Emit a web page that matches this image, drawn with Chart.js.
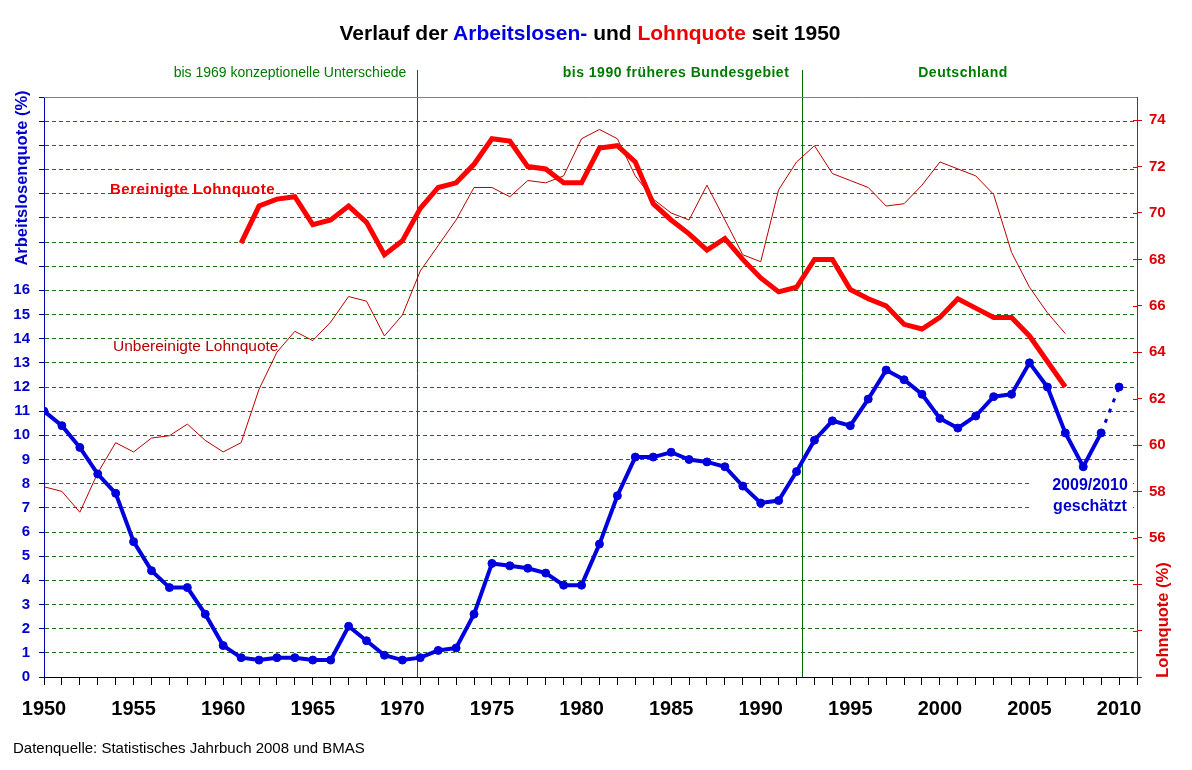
<!DOCTYPE html>
<html lang="de">
<head>
<meta charset="utf-8">
<title>Verlauf der Arbeitslosen- und Lohnquote seit 1950</title>
<script src="https://cdn.jsdelivr.net/npm/chart.js@4.4.0/dist/chart.umd.min.js"></script>
<style>
  html, body { margin: 0; padding: 0; background: #fff; }
  #wrap { position: relative; width: 1192px; height: 770px; font-family: Arial, "Liberation Sans", sans-serif; }
  #chart { position: absolute; left: 0; top: 0; }
  #title { position: absolute; left: 0; top: 21px; width: 1180px; text-align: center; font-weight: bold; font-size: 21px; line-height: 24px; color: #000; }
  #title .blue { color: #0000dd; }
  #title .red { color: #ee0000; }
  #source { position: absolute; left: 13px; top: 739px; font-size: 15px; line-height: 18px; color: #000; }
</style>
</head>
<body>
<div id="wrap">
  <canvas id="chart" width="1192" height="770"></canvas>
  <div id="title">Verlauf der <span class="blue">Arbeitslosen-</span> und <span class="red">Lohnquote</span> seit 1950</div>
  <div id="source">Datenquelle: Statistisches Jahrbuch 2008 und BMAS</div>
</div>
<script>
// years 1950 - 2010
const years = [1950, 1951, 1952, 1953, 1954, 1955, 1956, 1957, 1958, 1959,
  1960, 1961, 1962, 1963, 1964, 1965, 1966, 1967, 1968, 1969,
  1970, 1971, 1972, 1973, 1974, 1975, 1976, 1977, 1978, 1979,
  1980, 1981, 1982, 1983, 1984, 1985, 1986, 1987, 1988, 1989,
  1990, 1991, 1992, 1993, 1994, 1995, 1996, 1997, 1998, 1999,
  2000, 2001, 2002, 2003, 2004, 2005, 2006, 2007, 2008, 2009, 2010];

// Arbeitslosenquote (%), left axis; 2010 is an estimate
const arbeitslosenquote = [11.0, 10.4, 9.5, 8.4, 7.6, 5.6, 4.4, 3.7, 3.7, 2.6,
  1.3, 0.8, 0.7, 0.8, 0.8, 0.7, 0.7, 2.1, 1.5, 0.9,
  0.7, 0.8, 1.1, 1.2, 2.6, 4.7, 4.6, 4.5, 4.3, 3.8,
  3.8, 5.5, 7.5, 9.1, 9.1, 9.3, 9.0, 8.9, 8.7, 7.9,
  7.2, 7.3, 8.5, 9.8, 10.6, 10.4, 11.5, 12.7, 12.3, 11.7,
  10.7, 10.3, 10.8, 11.6, 11.7, 13.0, 12.0, 10.1, 8.7, 10.1, 12.0];

// bereinigte Lohnquote (%), right axis, from 1961
const lohnquoteBereinigt = [null, null, null, null, null, null, null, null, null, null,
  null, 68.7, 70.3, 70.6, 70.7, 69.5, 69.7, 70.3, 69.6, 68.2,
  68.8, 70.2, 71.1, 71.3, 72.1, 73.2, 73.1, 72.0, 71.9, 71.3,
  71.3, 72.8, 72.9, 72.2, 70.4, 69.7, 69.1, 68.4, 68.9, 68.0,
  67.2, 66.6, 66.8, 68.0, 68.0, 66.7, 66.3, 66.0, 65.2, 65.0,
  65.5, 66.3, 65.9, 65.5, 65.5, 64.7, 63.6, 62.5, null, null, null];

// unbereinigte Lohnquote (%), right axis
const lohnquoteUnbereinigt = [58.2, 58.0, 57.1, 58.8, 60.1, 59.7, 60.3, 60.4, 60.9, 60.2,
  59.7, 60.1, 62.4, 64.0, 64.9, 64.5, 65.3, 66.4, 66.2, 64.7,
  65.6, 67.5, 68.6, 69.7, 71.1, 71.1, 70.7, 71.4, 71.3, 71.6,
  73.2, 73.6, 73.2, 71.6, 70.6, 70.0, 69.7, 71.2, 69.7, 68.2,
  67.9, 71.0, 72.2, 72.9, 71.7, 71.4, 71.1, 70.3, 70.4, 71.2,
  72.2, 71.9, 71.6, 70.8, 68.3, 66.8, 65.7, 64.8, null, null, null];

const estimateFrom = 2009;
const periodBreaks = [1970.83, 1992.31];
const periodLabels = ['bis 1969 konzeptionelle Unterschiede', 'bis 1990 früheres Bundesgebiet', 'Deutschland'];

const xTickYears = years.concat([2011]);
const xLabelYears = [1950, 1955, 1960, 1965, 1970, 1975, 1980, 1985, 1990, 1995, 2000, 2005, 2010];
const leftTicks = [0, 1, 2, 3, 4, 5, 6, 7, 8, 9, 10, 11, 12, 13, 14, 15, 16, 17, 18, 19, 20, 21, 22, 23, 24];
const leftLabelMax = 16;
const rightTicks = [50, 52, 54, 56, 58, 60, 62, 64, 66, 68, 70, 72, 74];
const rightLabelMin = 56;

const BLUE = '#0000dd';
const RED = '#ff0000';
const DARKRED = '#b80000';
const GREEN = '#007a00';
const FONT = 'Arial, "Liberation Sans", sans-serif';

const toPoints = arr => years.map((yr, i) => ({ x: yr, y: arr[i] }));

const extras = {
  id: 'extras',
  beforeDatasetsDraw(chart) {
    const { ctx, chartArea: a, scales: { x } } = chart;
    ctx.save();
    // white box behind the note
    ctx.fillStyle = '#fff';
    ctx.fillRect(1032, 472, 101, 46);
    // period separators
    ctx.strokeStyle = '#006a00';
    ctx.lineWidth = 1;
    periodBreaks.forEach(v => {
      const px = Math.round(x.getPixelForValue(v)) + 0.5;
      ctx.beginPath();
      ctx.moveTo(px, 70);
      ctx.lineTo(px, a.bottom);
      ctx.stroke();
    });
    ctx.restore();
  },
  afterDraw(chart) {
    const { ctx, chartArea: a, scales: { yR } } = chart;
    ctx.save();
    // top frame
    ctx.strokeStyle = '#808080';
    ctx.lineWidth = 1;
    ctx.beginPath();
    ctx.moveTo(a.left, a.top + 0.5);
    ctx.lineTo(a.right, a.top + 0.5);
    ctx.stroke();
    // right ticks reach into the plot too
    ctx.strokeStyle = '#dd0000';
    rightTicks.forEach(v => {
      const py = Math.round(yR.getPixelForValue(v)) + 0.5;
      ctx.beginPath();
      ctx.moveTo(a.right - 4, py);
      ctx.lineTo(a.right, py);
      ctx.stroke();
    });

    ctx.textBaseline = 'middle';
    // period labels
    ctx.fillStyle = GREEN;
    ctx.textAlign = 'center';
    ctx.font = '14px ' + FONT;
    ctx.fillText(periodLabels[0], 290, 73);
    ctx.font = 'bold 14px ' + FONT;
    ctx.letterSpacing = '0.5px';
    ctx.fillText(periodLabels[1], 676, 73);
    ctx.fillText(periodLabels[2], 963, 73);

    // series labels
    ctx.textAlign = 'left';
    ctx.fillStyle = '#ee0000';
    ctx.font = 'bold 15px ' + FONT;
    ctx.fillText('Bereinigte Lohnquote', 110, 190);
    ctx.letterSpacing = '0px';
    ctx.fillStyle = DARKRED;
    ctx.font = '15.5px ' + FONT;
    ctx.fillText('Unbereinigte Lohnquote', 113, 347);

    // estimate note
    ctx.textAlign = 'center';
    ctx.fillStyle = '#0000cc';
    ctx.font = 'bold 16px ' + FONT;
    ctx.fillText('2009/2010', 1090, 486);
    ctx.fillText('geschätzt', 1090, 507);

    // axis titles
    ctx.font = 'bold 16.5px ' + FONT;
    ctx.fillStyle = '#0000cc';
    ctx.translate(22, 178);
    ctx.rotate(-Math.PI / 2);
    ctx.fillText('Arbeitslosenquote (%)', 0, 0);
    ctx.setTransform(1, 0, 0, 1, 0, 0);
    ctx.fillStyle = '#dd0000';
    ctx.translate(1163, 620);
    ctx.rotate(-Math.PI / 2);
    ctx.fillText('Lohnquote (%)', 0, 0);
    ctx.restore();
  }
};

new Chart(document.getElementById('chart'), {
  type: 'line',
  data: {
    datasets: [
      {
        label: 'Arbeitslosenquote',
        data: toPoints(arbeitslosenquote),
        yAxisID: 'yL',
        order: 0,
        borderColor: BLUE,
        backgroundColor: BLUE,
        borderWidth: 4,
        pointRadius: 4,
        pointBackgroundColor: BLUE,
        pointBorderColor: BLUE,
        pointBorderWidth: 1,
        tension: 0,
        segment: {
          borderDash: c => c.p0.parsed.x >= estimateFrom ? [4, 7] : undefined,
          borderWidth: c => c.p0.parsed.x >= estimateFrom ? 3 : undefined
        }
      },
      {
        label: 'Bereinigte Lohnquote',
        data: toPoints(lohnquoteBereinigt),
        yAxisID: 'yR',
        order: 1,
        borderColor: RED,
        borderWidth: 5,
        pointRadius: 0,
        tension: 0
      },
      {
        label: 'Unbereinigte Lohnquote',
        data: toPoints(lohnquoteUnbereinigt),
        yAxisID: 'yR',
        order: 2,
        borderColor: DARKRED,
        borderWidth: 1,
        pointRadius: 0,
        tension: 0
      }
    ]
  },
  options: {
    responsive: false,
    devicePixelRatio: 1,
    animation: false,
    events: [],
    layout: { padding: { top: 97, left: 0, right: 0, bottom: 0 } },
    plugins: { legend: { display: false }, tooltip: { enabled: false }, title: { display: false } },
    scales: {
      x: {
        type: 'linear',
        min: 1950,
        max: 2011,
        afterBuildTicks: s => { s.ticks = xTickYears.map(v => ({ value: v })); },
        afterFit: s => { s.height = 93; },
        grid: { drawOnChartArea: false, drawTicks: true, tickLength: 8, color: '#000', tickColor: '#000' },
        border: { color: '#000', width: 1 },
        ticks: {
          autoSkip: false,
          maxRotation: 0,
          padding: 12,
          color: '#000',
          font: { family: FONT, weight: 'bold', size: 20 },
          callback: v => xLabelYears.includes(v) ? String(v) : ''
        }
      },
      yL: {
        type: 'linear',
        position: 'left',
        min: 0,
        max: 24,
        afterBuildTicks: s => { s.ticks = leftTicks.map(v => ({ value: v })); },
        afterFit: s => { s.width = 44; },
        grid: {
          drawOnChartArea: true,
          drawTicks: true,
          tickLength: 5,
          color: c => (c.tick && c.tick.value > 0 && c.tick.value < 24) ? '#1f6f1f' : 'rgba(0,0,0,0)',
          tickColor: '#0000aa',
          lineWidth: 1
        },
        border: { color: '#0000aa', width: 1, dash: [4, 3] },
        ticks: {
          padding: 9,
          color: '#0000cc',
          font: { family: FONT, weight: 'bold', size: 15 },
          callback: v => v <= leftLabelMax ? String(v) : ''
        }
      },
      yR: {
        type: 'linear',
        position: 'right',
        min: 50,
        max: 75,
        afterBuildTicks: s => { s.ticks = rightTicks.map(v => ({ value: v })); },
        afterFit: s => { s.width = 55; },
        grid: { drawOnChartArea: false, drawTicks: true, tickLength: 5, color: '#dd0000', tickColor: '#dd0000' },
        border: { color: '#dd0000', width: 1 },
        ticks: {
          padding: 7,
          color: '#dd0000',
          font: { family: FONT, weight: 'bold', size: 15 },
          callback: v => v >= rightLabelMin ? String(v) : ''
        }
      }
    }
  },
  plugins: [extras]
});
</script>
</body>
</html>
